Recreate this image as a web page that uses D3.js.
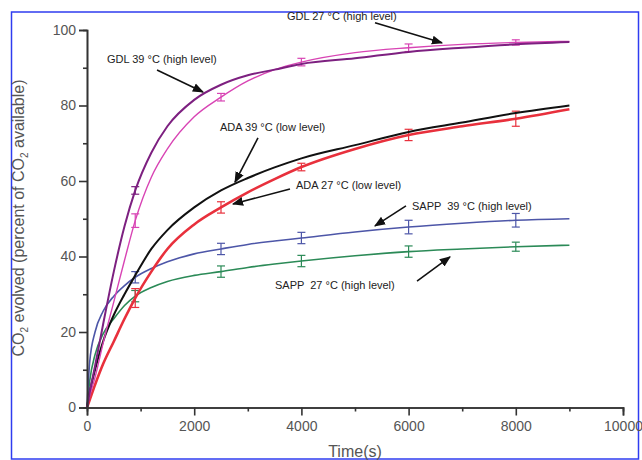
<!DOCTYPE html>
<html>
<head>
<meta charset="utf-8">
<script src="https://cdn.jsdelivr.net/npm/d3@7"></script>
<style>
  body { margin: 0; background: #fff; }
  svg { font-family: "Liberation Sans", Arial, sans-serif; }
</style>
</head>
<body>
<div class="chart"></div>
<script>
// time points (s) shared by all curves
var times = [0, 50, 150, 300, 500, 700, 900, 1200, 1500, 2000, 2500, 3000, 3500, 4000, 5000, 6000, 7000, 8000, 9000];

// CO2 evolved (% of available)
var gdl39 = [0, 4, 11, 22, 36, 48, 57.5, 67.5, 74.5, 81.5, 85.5, 88, 89.5, 91, 92.5, 94.2, 95.3, 96.2, 96.8];
var gdl27 = [0, 3, 8, 17, 28, 39, 49.5, 61, 68.5, 77, 82.2, 86.5, 89.5, 91.5, 94, 95.3, 96.2, 96.7, 97];
var ada39 = [0, 4, 10, 17.5, 24.5, 30, 35, 42, 47, 53, 57.5, 60.8, 63.6, 66, 69.5, 73, 75.5, 78, 80];
var ada27 = [0, 2, 6, 11.5, 17.5, 23.5, 29, 36, 42, 48.5, 53, 57, 60.5, 63.7, 68.5, 72.2, 74.5, 76.5, 79];
var sapp39 = [0, 12, 20, 25.5, 29.5, 32.3, 34.5, 36.8, 38.6, 40.7, 42, 43.2, 44.1, 44.9, 46.5, 47.8, 48.8, 49.6, 50];
var sapp27 = [0, 7, 14, 19.5, 23.5, 27, 29.5, 31.8, 33.4, 35, 36, 37.1, 38, 38.8, 40.2, 41.3, 42, 42.6, 43];

// error bars: time, mean, half-width
var errTimes = [900, 2500, 4000, 6000, 8000];
var gdl27Err = [[49.5, 1.8], [82.2, 1], [91.5, 1], [95.3, 1], [96.7, 0.7]];
var gdl39Err = [[57.5, 1]];
var ada27Err = [[29, 2.5], [53, 1.5], [63.7, 1], [72.2, 1.5], [76.5, 2]];
var sapp39Err = [[34.5, 1.5], [42, 1.5], [44.9, 1.5], [47.8, 1.8], [49.6, 1.8]];
var sapp27Err = [[29.5, 1.5], [36, 1.5], [38.8, 1.5], [41.3, 1.5], [42.6, 1.2]];

var xTicks = [0, 2000, 4000, 6000, 8000, 10000];
var yTicks = [0, 20, 40, 60, 80, 100];

var svgWidth = 642;
var svgHeight = 460;

var svg = d3.select(".chart")
  .append("svg")
  .attr("width", svgWidth)
  .attr("height", svgHeight);

var xScale = d3.scaleLinear().domain([0, 10000]).range([87, 623]);
var yScale = d3.scaleLinear().domain([0, 100]).range([407.5, 30]);

// frame
svg.append("rect")
  .attr("x", 11.5).attr("y", 12)
  .attr("width", 627).attr("height", 447)
  .attr("fill", "none")
  .attr("stroke", "#2f3cf0")
  .attr("stroke-width", 1.5);

var series = [
  { vals: sapp27, color: "#2b8a57", width: 1.6, err: sapp27Err },
  { vals: sapp39, color: "#4d56a8", width: 1.6, err: sapp39Err },
  { vals: ada27, color: "#e8303c", width: 2.6, err: ada27Err },
  { vals: ada39, color: "#111111", width: 2.0, err: [] },
  { vals: gdl27, color: "#d844b4", width: 1.4, err: gdl27Err },
  { vals: gdl39, color: "#7d2080", width: 2.0, err: gdl39Err }
];

var line = d3.line()
  .x(function(d, i) { return xScale(times[i]); })
  .y(function(d) { return yScale(d); })
  .curve(d3.curveMonotoneX);

series.forEach(function(s) {
  svg.append("path")
    .datum(s.vals)
    .attr("d", line)
    .attr("fill", "none")
    .attr("stroke", s.color)
    .attr("stroke-width", s.width);

  var g = svg.append("g").attr("stroke", s.color).attr("stroke-width", 1.2);
  s.err.forEach(function(e, i) {
    var x = xScale(errTimes[i]);
    var y1 = yScale(e[0] - e[1]), y2 = yScale(e[0] + e[1]);
    g.append("line").attr("x1", x).attr("x2", x).attr("y1", y1).attr("y2", y2);
    g.append("line").attr("x1", x - 4).attr("x2", x + 4).attr("y1", y1).attr("y2", y1);
    g.append("line").attr("x1", x - 4).attr("x2", x + 4).attr("y1", y2).attr("y2", y2);
  });
});

// axes
var axisColor = "#333";
var leftAxis = d3.axisLeft(yScale).tickValues(yTicks).tickSize(8).tickPadding(3);
var yMinor = d3.axisLeft(yScale).tickValues([10, 30, 50, 70, 90]).tickSize(4).tickFormat("");
var bottomAxis = d3.axisBottom(xScale).tickValues(xTicks).tickSize(8).tickPadding(6)
  .tickFormat(d3.format("d"));
var xMinor = d3.axisBottom(xScale).tickValues([1000, 3000, 5000, 7000, 9000]).tickSize(4).tickFormat("");

function styleAxis(g) {
  g.select(".domain").attr("stroke", axisColor).attr("stroke-width", 1.6);
  g.selectAll(".tick line").attr("stroke", axisColor).attr("stroke-width", 1.6);
  g.selectAll(".tick text").attr("fill", "#555").style("font-size", "14px")
    .style("font-family", "Liberation Sans, Arial, sans-serif");
}

svg.append("g").attr("transform", "translate(87,0)").call(leftAxis).call(styleAxis);
svg.append("g").attr("transform", "translate(87,0)").call(yMinor).call(styleAxis);
svg.append("g").attr("transform", "translate(0,407.5)").call(bottomAxis).call(styleAxis);
svg.append("g").attr("transform", "translate(0,407.5)").call(xMinor).call(styleAxis);

// axis titles
svg.append("text")
  .attr("x", 355).attr("y", 457)
  .attr("text-anchor", "middle")
  .attr("fill", "#555")
  .style("font-size", "16px")
  .text("Time(s)");

var yTitle = svg.append("text")
  .attr("transform", "translate(24,218) rotate(-90)")
  .attr("text-anchor", "middle")
  .attr("fill", "#555")
  .style("font-size", "16px");
yTitle.append("tspan").text("CO");
yTitle.append("tspan").attr("dy", 4).style("font-size", "10px").text("2");
yTitle.append("tspan").attr("dy", -4).text(" evolved (percent of CO");
yTitle.append("tspan").attr("dy", 4).style("font-size", "10px").text("2");
yTitle.append("tspan").attr("dy", -4).text(" available)");

// annotations: label position and arrow, in data units
var labels = ["GDL 27 °C (high level)", "GDL 39 °C (high level)", "ADA 39 °C (low level)",
  "ADA 27 °C (low level)", "SAPP  39 °C (high level)", "SAPP  27 °C (high level)"];
var labelPos = [[3731, 102.6], [373, 91.3], [2481, 73.2], [3899, 57.9], [6063, 52.3], [3507, 31.4]];
var arrowFrom = [[5373, 101.9], [1306, 89.4], [3190, 71.4], [3787, 57.9], [5951, 53.4], [6157, 33.5]];
var arrowTo = [[6623, 96.6], [2164, 83.6], [2761, 59.7], [2724, 53.9], [5373, 48.1], [6772, 39.9]];

svg.append("defs").append("marker")
  .attr("id", "head")
  .attr("viewBox", "0 0 10 10")
  .attr("refX", 9).attr("refY", 5)
  .attr("markerWidth", 7).attr("markerHeight", 7)
  .attr("orient", "auto")
  .append("path")
  .attr("d", "M0,1 L10,5 L0,9 Z")
  .attr("fill", "#111");

labels.forEach(function(t, i) {
  svg.append("text")
    .attr("x", xScale(labelPos[i][0]))
    .attr("y", yScale(labelPos[i][1]))
    .attr("fill", "#222")
    .style("font-size", "11px")
    .style("white-space", "pre")
    .text(t);
  svg.append("line")
    .attr("x1", xScale(arrowFrom[i][0])).attr("y1", yScale(arrowFrom[i][1]))
    .attr("x2", xScale(arrowTo[i][0])).attr("y2", yScale(arrowTo[i][1]))
    .attr("stroke", "#111")
    .attr("stroke-width", 1.6)
    .attr("marker-end", "url(#head)");
});
</script>
</body>
</html>
